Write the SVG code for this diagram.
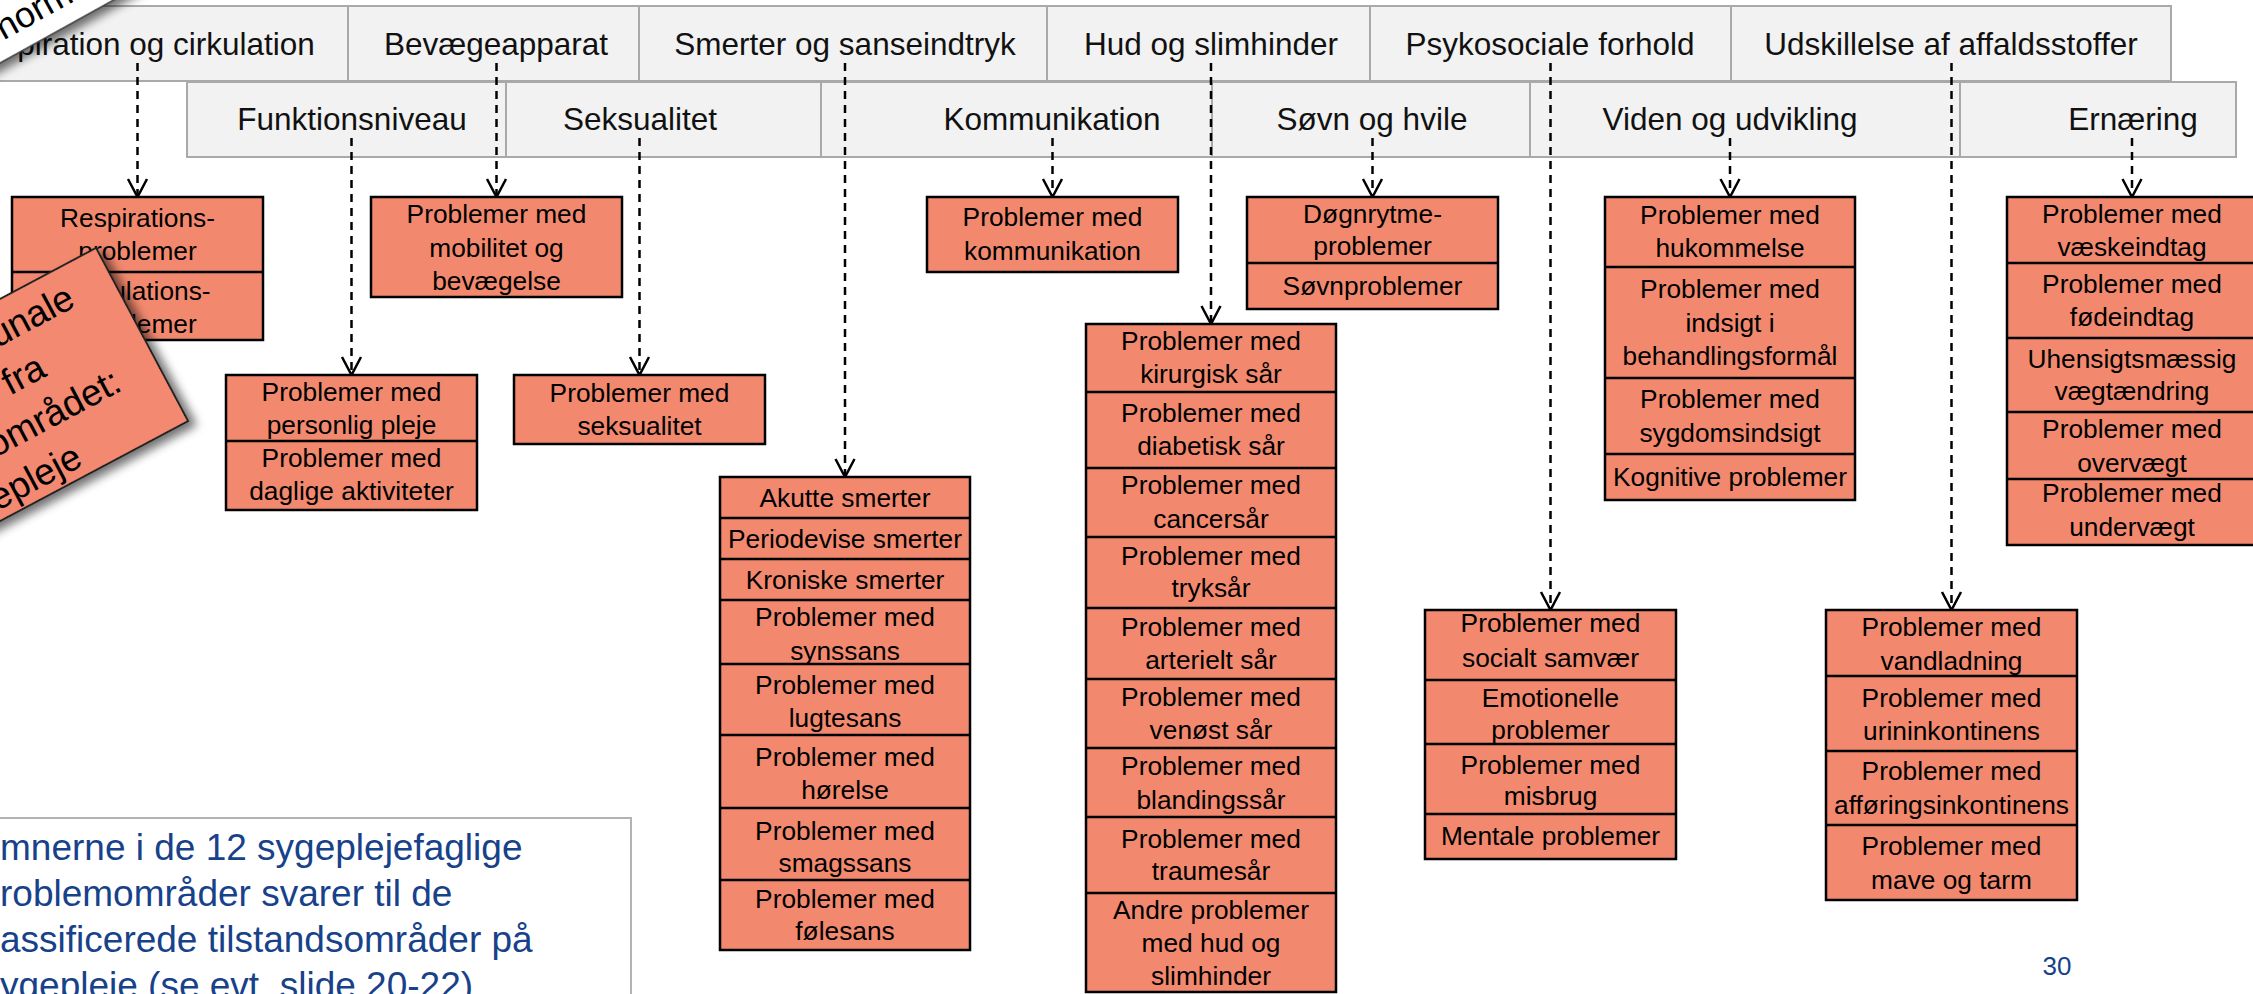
<svg xmlns="http://www.w3.org/2000/svg" width="2253" height="994" viewBox="0 0 2253 994">
<style>
.cell{fill:#f2f2f2;stroke:#a9a9a9;stroke-width:2}
.ht{font-family:"Liberation Sans",Arial,sans-serif;font-size:31.5px;fill:#111;text-anchor:middle}
.bx{fill:#F2896F;stroke:#000;stroke-width:2.5}
.dv{stroke:#000;stroke-width:2.5}
.bt{font-family:"Liberation Sans",Arial,sans-serif;font-size:26.3px;fill:#000;text-anchor:middle}
.cn{stroke:#000;stroke-width:2.5;stroke-dasharray:8 6;fill:none;marker-end:url(#arr)}
.note{font-family:"Liberation Sans",Arial,sans-serif;font-size:37px;fill:#17428a}
.co{font-family:"Liberation Sans",Arial,sans-serif;font-size:36px;fill:#000}
</style>
<defs>
<marker id="arr" markerUnits="userSpaceOnUse" viewBox="-20 -12 22 24" markerWidth="22" markerHeight="24" refX="0" refY="0" orient="auto">
<path d="M-18,-9.5 L0,0 L-18,9.5" fill="none" stroke="#000" stroke-width="2.5"/>
</marker>
<filter id="sh" x="-30%" y="-30%" width="160%" height="160%">
<feDropShadow dx="5" dy="7" stdDeviation="5" flood-color="#000" flood-opacity="0.55"/>
</filter>
</defs>
<rect x="0" y="0" width="2253" height="994" fill="#fff"/>

<g id="header-row1">
<rect class="cell" x="-72" y="6" width="420" height="75"/>
<rect class="cell" x="348" y="6" width="291" height="75"/>
<rect class="cell" x="639" y="6" width="408" height="75"/>
<rect class="cell" x="1047" y="6" width="323" height="75"/>
<rect class="cell" x="1370" y="6" width="361" height="75"/>
<rect class="cell" x="1731" y="6" width="440" height="75"/>
</g>
<g id="header-row2">
<rect class="cell" x="187" y="82" width="319" height="75"/>
<rect class="cell" x="506" y="82" width="315" height="75"/>
<rect class="cell" x="821" y="82" width="391" height="75"/>
<rect class="cell" x="1212" y="82" width="318" height="75"/>
<rect class="cell" x="1530" y="82" width="430" height="75"/>
<rect class="cell" x="1960" y="82" width="276" height="75"/>
</g>
<g id="h-respiration"><text class="ht" x="138" y="55">Respiration og cirkulation</text></g>
<g id="h-bevaege"><text class="ht" x="496" y="55">Bevægeapparat</text></g>
<g id="h-smerter"><text class="ht" x="845" y="55">Smerter og sanseindtryk</text></g>
<g id="h-hud"><text class="ht" x="1211" y="55">Hud og slimhinder</text></g>
<g id="h-psyko"><text class="ht" x="1550" y="55">Psykosociale forhold</text></g>
<g id="h-udskillelse"><text class="ht" x="1951" y="55">Udskillelse af affaldsstoffer</text></g>
<g id="h-funktion"><text class="ht" x="352" y="130">Funktionsniveau</text></g>
<g id="h-seksualitet"><text class="ht" x="640" y="130">Seksualitet</text></g>
<g id="h-kommunikation"><text class="ht" x="1052" y="130">Kommunikation</text></g>
<g id="h-soevn"><text class="ht" x="1372" y="130">Søvn og hvile</text></g>
<g id="h-viden"><text class="ht" x="1730" y="130">Viden og udvikling</text></g>
<g id="h-ernaering"><text class="ht" x="2133" y="130">Ernæring</text></g>

<g id="connectors">
<line class="cn" x1="137.5" y1="63" x2="137.5" y2="197"/>
<line class="cn" x1="496.5" y1="63" x2="496.5" y2="197"/>
<line class="cn" x1="845" y1="63" x2="845" y2="477"/>
<line class="cn" x1="1211" y1="63" x2="1211" y2="324"/>
<line class="cn" x1="1550.5" y1="63" x2="1550.5" y2="610"/>
<line class="cn" x1="1951.5" y1="63" x2="1951.5" y2="610"/>
<line class="cn" x1="351.5" y1="138" x2="351.5" y2="375"/>
<line class="cn" x1="639.5" y1="138" x2="639.5" y2="375"/>
<line class="cn" x1="1052.5" y1="138" x2="1052.5" y2="197"/>
<line class="cn" x1="1372.5" y1="138" x2="1372.5" y2="197"/>
<line class="cn" x1="1730" y1="138" x2="1730" y2="197"/>
<line class="cn" x1="2132" y1="138" x2="2132" y2="197"/>
</g>

<g id="box-respiration">
<rect class="bx" x="12" y="197" width="251" height="143"/>
<line class="dv" x1="12" y1="272" x2="263" y2="272"/>
<text class="bt" x="137.5" y="227">Respirations-</text>
<text class="bt" x="137.5" y="260">problemer</text>
<text class="bt" x="137.5" y="300">Cirkulations-</text>
<text class="bt" x="137.5" y="333">problemer</text>
</g>
<g id="box-mobilitet">
<rect class="bx" x="371" y="197" width="251" height="100"/>
<text class="bt" x="496.5" y="223">Problemer med</text>
<text class="bt" x="496.5" y="257">mobilitet og</text>
<text class="bt" x="496.5" y="290">bevægelse</text>
</g>
<g id="box-funktion">
<rect class="bx" x="226" y="375" width="251" height="135"/>
<line class="dv" x1="226" y1="441" x2="477" y2="441"/>
<text class="bt" x="351.5" y="401">Problemer med</text>
<text class="bt" x="351.5" y="434">personlig pleje</text>
<text class="bt" x="351.5" y="467">Problemer med</text>
<text class="bt" x="351.5" y="500">daglige aktiviteter</text>
</g>
<g id="box-seksualitet">
<rect class="bx" x="514" y="375" width="251" height="69"/>
<text class="bt" x="639.5" y="402">Problemer med</text>
<text class="bt" x="639.5" y="435">seksualitet</text>
</g>
<g id="box-kommunikation">
<rect class="bx" x="927" y="197" width="251" height="75"/>
<text class="bt" x="1052.5" y="226">Problemer med</text>
<text class="bt" x="1052.5" y="260">kommunikation</text>
</g>
<g id="box-soevn">
<rect class="bx" x="1247" y="197" width="251" height="112"/>
<line class="dv" x1="1247" y1="263" x2="1498" y2="263"/>
<text class="bt" x="1372.5" y="223">Døgnrytme-</text>
<text class="bt" x="1372.5" y="255">problemer</text>
<text class="bt" x="1372.5" y="295">Søvnproblemer</text>
</g>
<g id="box-smerter">
<rect class="bx" x="720" y="477" width="250" height="473"/>
<line class="dv" x1="720" y1="518" x2="970" y2="518"/>
<line class="dv" x1="720" y1="559" x2="970" y2="559"/>
<line class="dv" x1="720" y1="600" x2="970" y2="600"/>
<line class="dv" x1="720" y1="664" x2="970" y2="664"/>
<line class="dv" x1="720" y1="735" x2="970" y2="735"/>
<line class="dv" x1="720" y1="808" x2="970" y2="808"/>
<line class="dv" x1="720" y1="880" x2="970" y2="880"/>
<text class="bt" x="845" y="507">Akutte smerter</text>
<text class="bt" x="845" y="548">Periodevise smerter</text>
<text class="bt" x="845" y="589">Kroniske smerter</text>
<text class="bt" x="845" y="626">Problemer med</text>
<text class="bt" x="845" y="660">synssans</text>
<text class="bt" x="845" y="694">Problemer med</text>
<text class="bt" x="845" y="727">lugtesans</text>
<text class="bt" x="845" y="766">Problemer med</text>
<text class="bt" x="845" y="799">hørelse</text>
<text class="bt" x="845" y="840">Problemer med</text>
<text class="bt" x="845" y="872">smagssans</text>
<text class="bt" x="845" y="908">Problemer med</text>
<text class="bt" x="845" y="940">følesans</text>
</g>
<g id="box-hud">
<rect class="bx" x="1086" y="324" width="250" height="668"/>
<line class="dv" x1="1086" y1="392" x2="1336" y2="392"/>
<line class="dv" x1="1086" y1="468" x2="1336" y2="468"/>
<line class="dv" x1="1086" y1="537" x2="1336" y2="537"/>
<line class="dv" x1="1086" y1="608" x2="1336" y2="608"/>
<line class="dv" x1="1086" y1="679" x2="1336" y2="679"/>
<line class="dv" x1="1086" y1="748" x2="1336" y2="748"/>
<line class="dv" x1="1086" y1="817" x2="1336" y2="817"/>
<line class="dv" x1="1086" y1="893" x2="1336" y2="893"/>
<text class="bt" x="1211" y="350">Problemer med</text>
<text class="bt" x="1211" y="383">kirurgisk sår</text>
<text class="bt" x="1211" y="422">Problemer med</text>
<text class="bt" x="1211" y="455">diabetisk sår</text>
<text class="bt" x="1211" y="494">Problemer med</text>
<text class="bt" x="1211" y="528">cancersår</text>
<text class="bt" x="1211" y="565">Problemer med</text>
<text class="bt" x="1211" y="597">tryksår</text>
<text class="bt" x="1211" y="636">Problemer med</text>
<text class="bt" x="1211" y="669">arterielt sår</text>
<text class="bt" x="1211" y="706">Problemer med</text>
<text class="bt" x="1211" y="739">venøst sår</text>
<text class="bt" x="1211" y="775">Problemer med</text>
<text class="bt" x="1211" y="809">blandingssår</text>
<text class="bt" x="1211" y="848">Problemer med</text>
<text class="bt" x="1211" y="880">traumesår</text>
<text class="bt" x="1211" y="919">Andre problemer</text>
<text class="bt" x="1211" y="952">med hud og</text>
<text class="bt" x="1211" y="985">slimhinder</text>
</g>
<g id="box-viden">
<rect class="bx" x="1605" y="197" width="250" height="303"/>
<line class="dv" x1="1605" y1="267" x2="1855" y2="267"/>
<line class="dv" x1="1605" y1="378" x2="1855" y2="378"/>
<line class="dv" x1="1605" y1="454" x2="1855" y2="454"/>
<text class="bt" x="1730" y="224">Problemer med</text>
<text class="bt" x="1730" y="257">hukommelse</text>
<text class="bt" x="1730" y="298">Problemer med</text>
<text class="bt" x="1730" y="332">indsigt i</text>
<text class="bt" x="1730" y="365">behandlingsformål</text>
<text class="bt" x="1730" y="408">Problemer med</text>
<text class="bt" x="1730" y="442">sygdomsindsigt</text>
<text class="bt" x="1730" y="486">Kognitive problemer</text>
</g>
<g id="box-ernaering">
<rect class="bx" x="2007" y="197" width="250" height="348"/>
<line class="dv" x1="2007" y1="263" x2="2257" y2="263"/>
<line class="dv" x1="2007" y1="338" x2="2257" y2="338"/>
<line class="dv" x1="2007" y1="412" x2="2257" y2="412"/>
<line class="dv" x1="2007" y1="479" x2="2257" y2="479"/>
<text class="bt" x="2132" y="223">Problemer med</text>
<text class="bt" x="2132" y="256">væskeindtag</text>
<text class="bt" x="2132" y="293">Problemer med</text>
<text class="bt" x="2132" y="326">fødeindtag</text>
<text class="bt" x="2132" y="368">Uhensigtsmæssig</text>
<text class="bt" x="2132" y="400">vægtændring</text>
<text class="bt" x="2132" y="438">Problemer med</text>
<text class="bt" x="2132" y="472">overvægt</text>
<text class="bt" x="2132" y="502">Problemer med</text>
<text class="bt" x="2132" y="536">undervægt</text>
</g>
<g id="box-psyko">
<rect class="bx" x="1425" y="610" width="251" height="249"/>
<line class="dv" x1="1425" y1="680" x2="1676" y2="680"/>
<line class="dv" x1="1425" y1="744" x2="1676" y2="744"/>
<line class="dv" x1="1425" y1="814" x2="1676" y2="814"/>
<text class="bt" x="1550.5" y="632">Problemer med</text>
<text class="bt" x="1550.5" y="667">socialt samvær</text>
<text class="bt" x="1550.5" y="707">Emotionelle</text>
<text class="bt" x="1550.5" y="739">problemer</text>
<text class="bt" x="1550.5" y="774">Problemer med</text>
<text class="bt" x="1550.5" y="805">misbrug</text>
<text class="bt" x="1550.5" y="845">Mentale problemer</text>
</g>
<g id="box-udskillelse">
<rect class="bx" x="1826" y="610" width="251" height="290"/>
<line class="dv" x1="1826" y1="676" x2="2077" y2="676"/>
<line class="dv" x1="1826" y1="751" x2="2077" y2="751"/>
<line class="dv" x1="1826" y1="825" x2="2077" y2="825"/>
<text class="bt" x="1951.5" y="636">Problemer med</text>
<text class="bt" x="1951.5" y="670">vandladning</text>
<text class="bt" x="1951.5" y="707">Problemer med</text>
<text class="bt" x="1951.5" y="740">urininkontinens</text>
<text class="bt" x="1951.5" y="780">Problemer med</text>
<text class="bt" x="1951.5" y="814">afføringsinkontinens</text>
<text class="bt" x="1951.5" y="855">Problemer med</text>
<text class="bt" x="1951.5" y="889">mave og tarm</text>
</g>

<g id="note">
<rect x="-10" y="818" width="641" height="200" fill="#fff" stroke="#b3b3b3" stroke-width="2"/>
<text class="note" x="0" y="860">mnerne i de 12 sygeplejefaglige</text>
<text class="note" x="0" y="906">roblemområder svarer til de</text>
<text class="note" x="0" y="952">assificerede tilstandsområder på</text>
<text class="note" x="0" y="998">ygepleje (se evt. slide 20-22)</text>
</g>
<g id="page-number"><text class="note" style="font-size:26px;text-anchor:middle" x="2057" y="975">30</text></g>

<g id="callout-white" transform="translate(0,63) rotate(-29)">
<rect x="-300" y="-90" width="500" height="90" fill="#fff" stroke="#333" stroke-width="1.5" filter="url(#sh)"/>
<text class="co" style="font-size:36px" x="14" y="-18">norm.</text>
</g>
<g id="callout-salmon" transform="translate(96,248) rotate(-28)">
<rect x="-400" y="0" width="400" height="196" fill="#F2896F" stroke="#222" stroke-width="2" filter="url(#sh)"/>
<text class="co" style="text-anchor:end;font-size:37px" x="-44" y="42">unale</text>
<text class="co" style="text-anchor:end;font-size:37px" x="-102" y="90">fra</text>
<text class="co" style="text-anchor:end;font-size:37px" x="-42" y="138">området:</text>
<text class="co" style="text-anchor:end;font-size:37px" x="-112" y="186">epleje</text>
</g>
</svg>
